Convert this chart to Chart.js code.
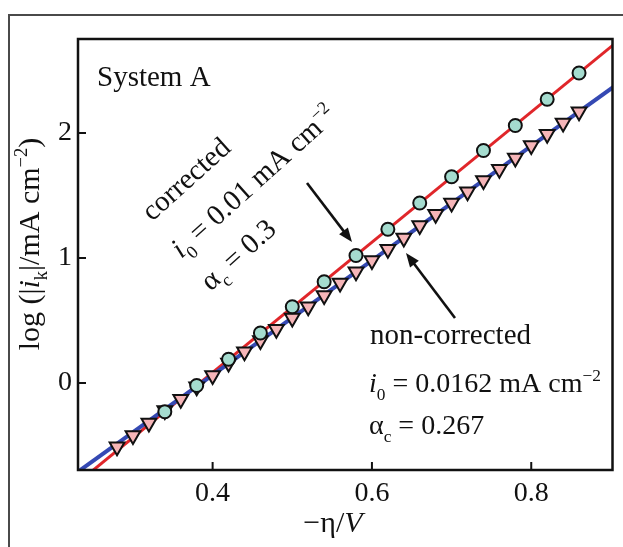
<!DOCTYPE html>
<html>
<head>
<meta charset="utf-8">
<script src="https://cdn.jsdelivr.net/npm/chart.js@4"></script>
<style>
  html, body { margin: 0; padding: 0; background: #fff; }
  #wrap { width: 623px; height: 547px; }
</style>
</head>
<body>
<div id="wrap"><canvas id="chart" width="623" height="547"></canvas></div>
<script>
// data
const circleX = [0.34, 0.38, 0.42, 0.46, 0.50, 0.54, 0.58, 0.62, 0.66, 0.70, 0.74, 0.78, 0.82, 0.86];
const circleY = [-0.23, -0.02, 0.19, 0.40, 0.61, 0.81, 1.02, 1.23, 1.44, 1.65, 1.86, 2.06, 2.27, 2.48];

const triX = [0.28, 0.30, 0.32, 0.34, 0.36, 0.38, 0.40, 0.42, 0.44, 0.46, 0.48, 0.50, 0.52, 0.54, 0.56,
              0.58, 0.60, 0.62, 0.64, 0.66, 0.68, 0.70, 0.72, 0.74, 0.76, 0.78, 0.80, 0.82, 0.84, 0.86];
const triY = [-0.51, -0.42, -0.32, -0.22, -0.13, -0.03, 0.06, 0.16, 0.25, 0.34, 0.43, 0.52, 0.61, 0.70, 0.80,
              0.89, 0.98, 1.07, 1.16, 1.26, 1.35, 1.44, 1.53, 1.62, 1.71, 1.80, 1.90, 1.99, 2.08, 2.17];

// fitted lines (corrected / non-corrected)
const redLineX = [0.20, 0.91];
const redLineY = [-0.958, 2.741];
const blueLineX = [0.20, 0.91];
const blueLineY = [-0.852, 2.40];

const xTicks = [0.4, 0.6, 0.8];
const yTicks = [0, 1, 2];

const FONT = '"Liberation Serif", "DejaVu Serif", serif';
const FS = 29;
const toPts = (xs, ys) => xs.map((x, i) => ({ x: x, y: ys[i] }));

function segFont(s, size) {
  let sz = size;
  if (s.sub || s.sup) sz = size * 0.62;
  return { font: (s.it ? 'italic ' : '') + sz + 'px ' + FONT, sz: sz };
}

function richWidth(ctx, segs, size) {
  let w = 0;
  segs.forEach(s => { ctx.font = segFont(s, size).font; w += ctx.measureText(s.t).width; });
  return w;
}

// draws text made of pieces (italic / sub / sup)
function drawRich(ctx, segs, x, y, size) {
  ctx.textBaseline = 'alphabetic';
  ctx.textAlign = 'left';
  segs.forEach(s => {
    let dy = 0;
    if (s.sub) dy = size * 0.28;
    if (s.sup) dy = -size * 0.40;
    ctx.font = segFont(s, size).font;
    ctx.fillText(s.t, x, y + dy);
    x += ctx.measureText(s.t).width;
  });
}

function arrow(ctx, x1, y1, x2, y2) {
  const a = Math.atan2(y2 - y1, x2 - x1);
  const hl = 14, hw = 5.5;
  ctx.strokeStyle = '#111';
  ctx.fillStyle = '#111';
  ctx.lineWidth = 2.6;
  ctx.beginPath();
  ctx.moveTo(x1, y1);
  ctx.lineTo(x2 - Math.cos(a) * hl * 0.8, y2 - Math.sin(a) * hl * 0.8);
  ctx.stroke();
  ctx.beginPath();
  ctx.moveTo(x2, y2);
  ctx.lineTo(x2 - Math.cos(a) * hl + Math.sin(a) * hw, y2 - Math.sin(a) * hl - Math.cos(a) * hw);
  ctx.lineTo(x2 - Math.cos(a) * hl - Math.sin(a) * hw, y2 - Math.sin(a) * hl + Math.cos(a) * hw);
  ctx.closePath();
  ctx.fill();
}

const decor = {
  id: 'decor',
  beforeDraw(chart) {
    const ctx = chart.ctx;
    ctx.save();
    ctx.fillStyle = '#fff';
    ctx.fillRect(0, 0, chart.width, chart.height);
    // outer figure frame
    ctx.strokeStyle = '#4a4a4a';
    ctx.lineWidth = 2;
    ctx.beginPath();
    ctx.moveTo(9, 547);
    ctx.lineTo(9, 15);
    ctx.lineTo(623, 15);
    ctx.stroke();
    ctx.restore();
  },
  afterDraw(chart) {
    const ctx = chart.ctx;
    const a = chart.chartArea;
    const xs = chart.scales.x, ys = chart.scales.y;
    ctx.save();
    // plot frame
    ctx.strokeStyle = '#111';
    ctx.lineWidth = 2.5;
    ctx.strokeRect(a.left, a.top, a.right - a.left, a.bottom - a.top);
    // inward ticks
    ctx.lineWidth = 2;
    ctx.beginPath();
    yTicks.forEach(v => {
      const p = ys.getPixelForValue(v);
      ctx.moveTo(a.left, p); ctx.lineTo(a.left + 8, p);
    });
    xTicks.forEach(v => {
      const p = xs.getPixelForValue(v);
      ctx.moveTo(p, a.bottom); ctx.lineTo(p, a.bottom - 8);
    });
    ctx.stroke();

    ctx.fillStyle = '#111';
    // axis titles
    const xt = [{ t: '\u2212\u03b7/' }, { t: 'V', it: true }];
    drawRich(ctx, xt, 333 - richWidth(ctx, xt, 30) / 2, 532, 30);
    const yt = [{ t: 'log (|' }, { t: 'i', it: true }, { t: 'k', sub: true }, { t: '|/mA cm' },
                { t: '\u22122', sup: true }, { t: ')' }];
    ctx.save();
    ctx.translate(39, 244 + richWidth(ctx, yt, 30) / 2);
    ctx.rotate(-Math.PI / 2);
    drawRich(ctx, yt, 0, 0, 30);
    ctx.restore();

    drawRich(ctx, [{ t: 'System A' }], 97, 86, FS);

    // rotated corrected-fit labels
    ctx.save();
    ctx.translate(152, 222);
    ctx.rotate(-42 * Math.PI / 180);
    drawRich(ctx, [{ t: 'corrected' }], 0, 0, FS);
    drawRich(ctx, [{ t: 'i', it: true }, { t: '0', sub: true }, { t: ' = 0.01 mA cm' }, { t: '\u22122', sup: true }], -3, 47, FS);
    drawRich(ctx, [{ t: '\u03b1' }, { t: 'c', sub: true }, { t: ' = 0.3' }], -3, 91, FS);
    ctx.restore();

    // non-corrected labels
    drawRich(ctx, [{ t: 'non-corrected' }], 370, 344, FS);
    drawRich(ctx, [{ t: 'i', it: true }, { t: '0', sub: true }, { t: ' = 0.0162 mA cm' }, { t: '\u22122', sup: true }], 369, 392, 28);
    drawRich(ctx, [{ t: '\u03b1' }, { t: 'c', sub: true }, { t: ' = 0.267' }], 369, 434, 28);

    arrow(ctx, 307, 183, 352, 242);
    arrow(ctx, 455, 318, 406, 253);
    ctx.restore();
  }
};

new Chart(document.getElementById('chart'), {
  type: 'scatter',
  data: {
    datasets: [
      {
        label: 'corrected data',
        data: toPts(circleX, circleY),
        pointStyle: 'circle',
        pointRadius: 6.5,
        backgroundColor: '#a5dccf',
        borderColor: '#111',
        borderWidth: 2,
        order: 0
      },
      {
        label: 'non-corrected data',
        data: toPts(triX, triY),
        pointStyle: 'triangle',
        pointRotation: 180,
        pointRadius: 8.5,
        backgroundColor: '#f6b5b8',
        borderColor: '#111',
        borderWidth: 2,
        order: 1
      },
      {
        label: 'non-corrected fit',
        data: toPts(blueLineX, blueLineY),
        showLine: true,
        pointRadius: 0,
        borderColor: '#3549b3',
        borderWidth: 4,
        order: 2
      },
      {
        label: 'corrected fit',
        data: toPts(redLineX, redLineY),
        showLine: true,
        pointRadius: 0,
        borderColor: '#e0262a',
        borderWidth: 3,
        order: 3
      }
    ]
  },
  options: {
    responsive: false,
    animation: false,
    events: [],
    layout: { padding: { left: 0, top: 39, right: 9, bottom: 0 } },
    plugins: { legend: { display: false }, tooltip: { enabled: false } },
    scales: {
      x: {
        type: 'linear',
        min: 0.231,
        max: 0.902,
        afterFit: s => { s.height = 77; },
        afterBuildTicks: s => { s.ticks = xTicks.map(v => ({ value: v })); },
        grid: { display: false, drawTicks: false },
        border: { display: false },
        ticks: {
          padding: 7,
          color: '#111',
          font: { family: FONT, size: 28 },
          callback: v => v.toFixed(1)
        }
      },
      y: {
        type: 'linear',
        min: -0.696,
        max: 2.752,
        afterFit: s => { s.width = 78; },
        afterBuildTicks: s => { s.ticks = yTicks.map(v => ({ value: v })); },
        grid: { display: false, drawTicks: false },
        border: { display: false },
        ticks: {
          padding: 6,
          color: '#111',
          font: { family: FONT, size: 28 },
          callback: v => String(v)
        }
      }
    }
  },
  plugins: [decor]
});
</script>
</body>
</html>
